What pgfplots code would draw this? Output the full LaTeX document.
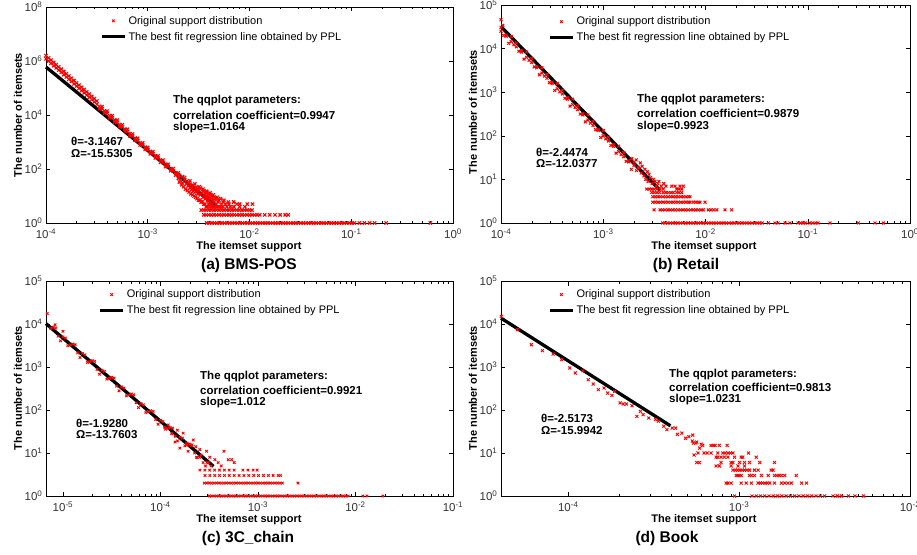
\documentclass[border=0pt]{standalone}
\usepackage{fontspec}
\setmainfont{Liberation Sans}
\usepackage{pgfplots}
\pgfplotsset{compat=1.18}

\newcommand\tkfont{\fontsize{11.5}{12}\selectfont}
\newcommand\legfont{\fontsize{11}{12}\selectfont}
\newcommand\annfont{\fontsize{11.5}{13}\selectfont\bfseries}
\newcommand\labfont{\fontsize{11}{13}\selectfont\bfseries}
\newcommand\capfont{\fontsize{15.5}{17}\selectfont\bfseries}
\newcommand\ptsleg{\draw[red,mark=x,mark size=1.8pt,mark options={line width=0.9pt}] plot[only marks] coordinates {(11.5pt,0pt)};}
\newcommand\fitleg{\draw[black,line width=3.3pt] (0pt,0pt) -- (23pt,0pt);}

\begin{document}
\begin{tikzpicture}
\useasboundingbox (0pt,0pt) rectangle (917pt,-554pt);

% ---------------- (a) BMS-POS ----------------
\begin{axis}[xmode=log, ymode=log, scale only axis, anchor=north west,
  at={(46pt,-7pt)}, width=407pt, height=216pt,
  tick align=inside, major tick length=4.5pt, minor tick length=2.5pt,
  tick style={black, line width=0.5pt}, axis line style={line width=0.8pt},
  tick label style={font=\tkfont, text=black!80}, xticklabel style={yshift=-2pt},
  xticklabel={10\textsuperscript{\pgfmathparse{int(round(\tick/ln(10)))}\pgfmathresult}},
  yticklabel={10\textsuperscript{\pgfmathparse{int(round(\tick/ln(10)))}\pgfmathresult}},
  minor y tick style={draw=none}, clip=false, legend cell align=left,
  legend style={draw=none, fill=none, font=\legfont, inner sep=0pt, anchor=north west, row sep=2.5pt, at={(0.1327,0.968)}},
  xmin=1e-4, xmax=1, ymin=1, ymax=1e8,
  xtick={1e-4,1e-3,1e-2,1e-1,1}, ytick={1,1e2,1e4,1e6,1e8}]
\addplot[only marks, mark=x, red, mark size=2.3pt, mark options={line width=1.1pt}, legend image code/.code={\ptsleg}] coordinates {
 (1.000e-4,1.202e6) (1.059e-4,9.91e5) (1.122e-4,8.17e5) (1.189e-4,6.73e5) (1.259e-4,5.55e5)
 (1.334e-4,4.57e5) (1.413e-4,3.77e5) (1.496e-4,3.11e5) (1.585e-4,2.56e5) (1.679e-4,2.11e5)
 (1.778e-4,1.74e5) (1.884e-4,1.43e5) (1.995e-4,1.18e5) (2.113e-4,9.73e4) (2.239e-4,8.02e4)
 (2.371e-4,6.61e4) (2.512e-4,5.45e4) (2.661e-4,4.49e4) (2.818e-4,3.70e4) (2.985e-4,3.05e4)
 (3.162e-4,2.51e4) (3.350e-4,2.07e4) (3.548e-4,1.71e4) (3.758e-4,1.41e4) (3.981e-4,1.16e4)
 (4.217e-4,9.55e3) (4.467e-4,7.87e3) (4.732e-4,6.49e3) (5.012e-4,5.35e3) (5.309e-4,4.41e3)
 (5.623e-4,3.63e3) (5.957e-4,2.99e3) (6.310e-4,2.47e3) (6.683e-4,2.03e3) (7.079e-4,1.68e3)
 (7.499e-4,1.38e3) (7.943e-4,1.14e3) (8.414e-4,938) (8.913e-4,773) (9.441e-4,637)
 (1.000e-3,525) (1.059e-3,439) (1.122e-3,366) (1.189e-3,306) (1.259e-3,255)
 (1.334e-3,213) (1.413e-3,177) (1.496e-3,148) (1.585e-3,124) (1.679e-3,103)
 (1.778e-3,86) (1.884e-3,72) (1.995e-3,60)
 (1.000e-4,1.58e6) (1.059e-4,1.31e6) (1.122e-4,1.08e6) (1.189e-4,8.87e5) (1.259e-4,7.31e5)
 (1.334e-4,6.02e5) (1.413e-4,4.96e5) (1.496e-4,4.09e5) (1.585e-4,3.37e5) (1.679e-4,2.78e5)
 (1.778e-4,2.29e5) (1.884e-4,1.89e5) (1.995e-4,1.56e5) (2.113e-4,1.28e5) (2.239e-4,1.06e5)
 (2.371e-4,8.71e4) (2.512e-4,7.18e4) (2.661e-4,5.91e4) (2.818e-4,4.87e4) (2.985e-4,4.02e4)
 (3.162e-4,3.31e4) (3.548e-4,2.05e4) (3.981e-4,1.39e4) (4.467e-4,9.46e3) (5.012e-4,6.43e3)
 (5.623e-4,4.36e3) (6.310e-4,2.96e3) (7.079e-4,2.01e3) (7.943e-4,1.37e3) (8.913e-4,929)
 (1.000e-3,631) (1.122e-3,439) (1.259e-3,306) (1.413e-3,213) (1.585e-3,149)
 (1.778e-3,103) (1.995e-3,72)
 (3.350e-4,1.72e4) (3.758e-4,1.17e4) (4.217e-4,7.95e3) (4.732e-4,5.40e3) (5.309e-4,3.67e3)
 (5.957e-4,2.49e3) (6.683e-4,1.69e3) (7.499e-4,1148) (8.414e-4,780) (9.441e-4,530)
 (1.059e-3,365) (1.189e-3,254) (1.334e-3,177) (1.496e-3,123) (1.679e-3,86) (1.884e-3,60)
};
\addplot[only marks, mark=x, red, mark size=2.3pt, mark options={line width=1.1pt}, forget plot] coordinates {
 (2.0e-3,45) (2.1e-3,38) (2.2e-3,52) (2.2e-3,30) (2.3e-3,40) (2.4e-3,28) (2.4e-3,35)
 (2.5e-3,24) (2.5e-3,31) (2.6e-3,20) (2.6e-3,27) (2.7e-3,22) (2.7e-3,17) (2.8e-3,25)
 (2.8e-3,15) (2.9e-3,19) (3.0e-3,14) (3.0e-3,21) (3.1e-3,12) (3.1e-3,17) (3.2e-3,16)
 (3.3e-3,11) (3.3e-3,20) (3.4e-3,13) (3.5e-3,9) (3.5e-3,15) (3.6e-3,11) (3.7e-3,8)
 (3.7e-3,14) (3.8e-3,10) (3.9e-3,7) (3.9e-3,12) (4.0e-3,9) (4.1e-3,6) (4.1e-3,11)
 (4.2e-3,8) (4.3e-3,5) (4.3e-3,10) (4.4e-3,7) (4.5e-3,6) (4.5e-3,9) (4.7e-3,5)
 (4.7e-3,8) (4.9e-3,6) (5.0e-3,4) (5.0e-3,7) (5.3e-3,5) (5.5e-3,6) (5.5e-3,4)
 (5.8e-3,5) (6.0e-3,4) (6.3e-3,5) (6.5e-3,4) (7.0e-3,4) (7.5e-3,5) (8.0e-3,4)
 (9.0e-3,4) (1.07e-2,5)
 (2.05e-3,33) (2.15e-3,26) (2.25e-3,22) (2.35e-3,18) (2.45e-3,16) (2.55e-3,14) (2.65e-3,12)
 (2.75e-3,11) (2.85e-3,10) (2.95e-3,9) (3.05e-3,8) (3.15e-3,7) (3.25e-3,7) (3.35e-3,6)
 (3.45e-3,6) (3.55e-3,5) (3.65e-3,5) (3.75e-3,4) (3.85e-3,4) (3.95e-3,5) (4.05e-3,4)
 (4.15e-3,5) (4.25e-3,4) (4.4e-3,4) (4.6e-3,4) (4.8e-3,4) (5.2e-3,4)
 (2.05e-3,58) (2.3e-3,48) (2.6e-3,36) (2.9e-3,28) (3.2e-3,22) (3.5e-3,18) (3.8e-3,15)
 (4.1e-3,13) (4.4e-3,11) (4.8e-3,9) (5.2e-3,8) (5.6e-3,7) (6.2e-3,6) (7.0e-3,6) (8.0e-3,5) (9.5e-3,5)
 (3.350e-3,3) (3.548e-3,3) (3.758e-3,3) (3.981e-3,3) (4.217e-3,3) (4.467e-3,3) (4.732e-3,3)
 (5.012e-3,3) (5.309e-3,3) (5.623e-3,3) (5.957e-3,3) (6.310e-3,3) (6.683e-3,3) (7.079e-3,3)
 (7.499e-3,3) (7.943e-3,3) (8.414e-3,3) (8.913e-3,3) (9.441e-3,3) (1.000e-2,3) (1.059e-2,3)
 (3.548e-3,2) (3.758e-3,2) (3.981e-3,2) (4.217e-3,2) (4.467e-3,2) (4.732e-3,2) (5.012e-3,2)
 (5.309e-3,2) (5.623e-3,2) (5.957e-3,2) (6.310e-3,2) (6.683e-3,2) (7.079e-3,2) (7.499e-3,2)
 (7.943e-3,2) (8.414e-3,2) (8.913e-3,2) (9.441e-3,2) (1.000e-2,2) (1.059e-2,2) (1.122e-2,2)
 (1.189e-2,2) (1.259e-2,2) (1.41e-2,2) (1.58e-2,2) (1.78e-2,2) (2.0e-2,2) (2.24e-2,2) (2.4e-2,2)
 (3.80e-3,1) (4.03e-3,1) (4.27e-3,1) (4.52e-3,1) (4.79e-3,1) (5.07e-3,1) (5.37e-3,1) (5.69e-3,1)
 (6.03e-3,1) (6.38e-3,1) (6.76e-3,1) (7.16e-3,1) (7.59e-3,1) (8.04e-3,1) (8.51e-3,1) (9.02e-3,1)
 (9.55e-3,1) (1.012e-2,1) (1.072e-2,1) (1.135e-2,1) (1.202e-2,1) (1.274e-2,1) (1.349e-2,1)
 (1.429e-2,1) (1.514e-2,1) (1.603e-2,1) (1.698e-2,1) (1.799e-2,1) (1.905e-2,1) (2.018e-2,1)
 (2.138e-2,1) (2.265e-2,1) (2.399e-2,1) (2.541e-2,1) (2.692e-2,1) (2.851e-2,1) (3.020e-2,1)
 (3.199e-2,1) (3.388e-2,1) (3.589e-2,1) (3.802e-2,1) (4.027e-2,1) (4.266e-2,1) (4.519e-2,1)
 (4.786e-2,1) (5.070e-2,1) (5.370e-2,1) (5.689e-2,1) (6.026e-2,1) (6.383e-2,1) (6.761e-2,1)
 (7.161e-2,1) (7.586e-2,1) (8.035e-2,1) (8.511e-2,1) (9.016e-2,1) (9.550e-2,1) (0.1012,1)
 (0.1072,1) (0.1202,1) (0.1349,1) (0.1514,1) (0.1698,1) (0.22,1) (0.6,1)
};
\addplot[black, line width=3.3pt, no marks, legend image code/.code={\fitleg}] coordinates {(1e-4,6.0e5) (4.7e-3,4.1)};
\legend{Original support distribution, The best fit regression line obtained by PPL}
\end{axis}

% ---------------- (b) Retail ----------------
\begin{axis}[xmode=log, ymode=log, scale only axis, anchor=north west,
  at={(501pt,-5pt)}, width=409pt, height=218pt,
  tick align=inside, major tick length=4.5pt, minor tick length=2.5pt,
  tick style={black, line width=0.5pt}, axis line style={line width=0.8pt},
  tick label style={font=\tkfont, text=black!80}, xticklabel style={yshift=-2pt},
  xticklabel={10\textsuperscript{\pgfmathparse{int(round(\tick/ln(10)))}\pgfmathresult}},
  yticklabel={10\textsuperscript{\pgfmathparse{int(round(\tick/ln(10)))}\pgfmathresult}},
  minor y tick style={draw=none}, clip=false, legend cell align=left,
  legend style={draw=none, fill=none, font=\legfont, inner sep=0pt, anchor=north west, row sep=2.5pt, at={(0.115,0.955)}},
  xmin=1e-4, xmax=1, ymin=1, ymax=1e5,
  xtick={1e-4,1e-3,1e-2,1e-1,1}, ytick={1,1e1,1e2,1e3,1e4,1e5}]
\addplot[only marks, mark=x, red, mark size=2pt, mark options={line width=1pt}, legend image code/.code={\ptsleg}] coordinates {
 (1.0e-4,4.6e4) (1.04e-4,3.4e4)
 (1.000e-4,3.09e4) (1.059e-4,2.00e4) (1.122e-4,2.04e4) (1.189e-4,1.32e4) (1.259e-4,1.91e4)
 (1.334e-4,1.23e4) (1.413e-4,1.35e4) (1.496e-4,8.71e3) (1.585e-4,8.91e3) (1.679e-4,5.75e3)
 (1.778e-4,8.32e3) (1.884e-4,5.37e3) (1.995e-4,5.89e3) (2.113e-4,3.80e3) (2.239e-4,3.89e3)
 (2.371e-4,2.51e3) (2.512e-4,3.63e3) (2.661e-4,2.34e3) (2.818e-4,2.57e3) (2.985e-4,1.66e3)
 (3.162e-4,1.70e3) (3.350e-4,1.10e3) (3.548e-4,1.59e3) (3.758e-4,1.02e3) (3.981e-4,1.12e3)
 (4.217e-4,724) (4.467e-4,741) (4.732e-4,479) (5.012e-4,692) (5.309e-4,447)
 (5.623e-4,490) (5.957e-4,316) (6.310e-4,324) (6.683e-4,209) (7.079e-4,302)
 (7.499e-4,195) (7.943e-4,214) (8.414e-4,138) (8.913e-4,141) (9.441e-4,91)
 (1.000e-3,132) (1.059e-3,85) (1.122e-3,93) (1.189e-3,60) (1.259e-3,62)
 (1.334e-3,40) (1.413e-3,58) (1.496e-3,37) (1.585e-3,41) (1.679e-3,26)
 (1.778e-3,27) (1.884e-3,17) (1.995e-3,25) (2.113e-3,16) (2.239e-3,18)
 (1.000e-4,2.51e4) (1.122e-4,1.91e4) (1.259e-4,1.45e4) (1.413e-4,1.10e4) (1.585e-4,8.32e3)
 (1.778e-4,6.31e3) (1.995e-4,4.79e3) (2.239e-4,3.63e3) (2.512e-4,2.75e3) (2.818e-4,2.09e3)
 (3.162e-4,1.59e3) (3.548e-4,1.20e3) (3.981e-4,912) (4.467e-4,692) (5.012e-4,525)
 (5.623e-4,398) (6.310e-4,302) (7.079e-4,229) (7.943e-4,174) (8.913e-4,132)
 (1.000e-3,100) (1.122e-3,76) (1.259e-3,57.5) (1.413e-3,43.7) (1.585e-3,33.1) (1.778e-3,25.1)
};
\addplot[only marks, mark=x, red, mark size=2pt, mark options={line width=1pt}, forget plot] coordinates {
 (1.9e-3,30) (2.0e-3,21) (2.1e-3,28) (2.2e-3,19) (2.3e-3,24) (2.35e-3,14) (2.4e-3,20)
 (2.5e-3,12) (2.55e-3,17) (2.6e-3,10) (2.7e-3,15) (2.75e-3,9) (2.8e-3,13) (2.9e-3,11)
 (3.0e-3,8) (3.1e-3,10) (3.2e-3,9) (3.3e-3,7) (3.4e-3,8) (3.5e-3,9) (3.7e-3,7)
 (3.9e-3,8) (4.1e-3,7) (4.67e-3,7) (5.04e-3,7) (5.63e-3,7) (6.07e-3,7)
 (2.66e-3,6) (2.82e-3,6) (2.98e-3,6) (3.16e-3,6) (3.35e-3,6) (3.59e-3,6) (3.87e-3,6)
 (5.23e-3,6) (5.5e-3,6) (5.85e-3,6)
 (2.98e-3,5) (3.16e-3,5) (3.35e-3,5) (3.55e-3,5) (3.87e-3,5) (4.10e-3,5) (4.34e-3,5)
 (4.60e-3,5) (4.84e-3,5) (5.23e-3,5) (5.50e-3,5) (5.85e-3,5)
 (3.05e-3,4) (3.23e-3,4) (3.42e-3,4) (3.62e-3,4) (3.84e-3,4) (4.06e-3,4) (4.30e-3,4)
 (4.56e-3,4) (4.83e-3,4) (5.11e-3,4) (5.42e-3,4) (5.74e-3,4) (6.08e-3,4) (6.44e-3,4)
 (6.82e-3,4) (7.05e-3,4)
 (3.05e-3,3) (3.23e-3,3) (3.42e-3,3) (3.62e-3,3) (3.84e-3,3) (4.06e-3,3) (4.30e-3,3)
 (4.56e-3,3) (4.83e-3,3) (5.11e-3,3) (5.42e-3,3) (5.74e-3,3) (6.08e-3,3) (6.44e-3,3)
 (6.82e-3,3) (7.05e-3,3) (7.60e-3,3) (8.04e-3,3) (8.51e-3,3) (8.83e-3,3) (9.89e-3,3)
 (3.14e-3,2) (3.59e-3,2) (3.80e-3,2) (4.03e-3,2) (4.27e-3,2) (4.52e-3,2) (4.79e-3,2)
 (5.07e-3,2) (5.37e-3,2) (5.69e-3,2) (6.03e-3,2) (6.38e-3,2) (6.76e-3,2) (7.16e-3,2)
 (7.59e-3,2) (8.04e-3,2) (8.51e-3,2) (9.02e-3,2) (9.52e-3,2) (1.065e-2,2) (1.13e-2,2)
 (1.2e-2,2) (1.29e-2,2) (1.55e-2,2) (1.80e-2,2)
 (3.80e-3,1) (4.03e-3,1) (4.27e-3,1) (4.52e-3,1) (4.79e-3,1) (5.07e-3,1) (5.37e-3,1)
 (5.69e-3,1) (6.03e-3,1) (6.38e-3,1) (6.76e-3,1) (7.16e-3,1) (7.59e-3,1) (8.04e-3,1)
 (8.51e-3,1) (9.02e-3,1) (9.55e-3,1) (1.012e-2,1) (1.072e-2,1) (1.135e-2,1) (1.202e-2,1)
 (1.274e-2,1) (1.349e-2,1) (1.429e-2,1) (1.514e-2,1) (1.603e-2,1) (1.698e-2,1) (1.799e-2,1)
 (1.905e-2,1) (2.018e-2,1) (2.138e-2,1) (2.265e-2,1) (2.399e-2,1) (2.541e-2,1) (2.692e-2,1)
 (2.851e-2,1) (3.020e-2,1) (3.199e-2,1) (3.388e-2,1) (3.589e-2,1) (4.11e-2,1) (4.78e-2,1)
 (5.12e-2,1) (6.0e-2,1) (6.7e-2,1) (8.03e-2,1) (8.5e-2,1) (9.0e-2,1) (9.5e-2,1) (0.105,1)
 (0.112,1) (0.12,1) (0.126,1) (0.165,1) (0.312,1) (0.455,1) (0.548,1)
};
\addplot[black, line width=3.3pt, no marks, legend image code/.code={\fitleg}] coordinates {(1e-4,3.2e4) (3.6e-3,5.6)};
\legend{Original support distribution, The best fit regression line obtained by PPL}
\end{axis}

% ---------------- (c) 3C_chain ----------------
\begin{axis}[xmode=log, ymode=log, scale only axis, anchor=north west,
  at={(46pt,-281pt)}, width=407pt, height=215pt,
  tick align=inside, major tick length=4.5pt, minor tick length=2.5pt,
  tick style={black, line width=0.5pt}, axis line style={line width=0.8pt},
  tick label style={font=\tkfont, text=black!80}, xticklabel style={yshift=-2pt},
  xticklabel={10\textsuperscript{\pgfmathparse{int(round(\tick/ln(10)))}\pgfmathresult}},
  yticklabel={10\textsuperscript{\pgfmathparse{int(round(\tick/ln(10)))}\pgfmathresult}},
  minor y tick style={draw=none}, clip=false, legend cell align=left,
  legend style={draw=none, fill=none, font=\legfont, inner sep=0pt, anchor=north west, row sep=2.5pt, at={(0.1285,0.969)}},
  xmin=6.7e-6, xmax=1e-1, ymin=1, ymax=1e5,
  xtick={1e-5,1e-4,1e-3,1e-2,1e-1}, ytick={1,1e1,1e2,1e3,1e4,1e5}]
\addplot[only marks, mark=x, red, mark size=1.8pt, mark options={line width=0.9pt}, legend image code/.code={\ptsleg}] coordinates {
 (6.9e-6,1.75e4) (8.3e-6,9.6e3) (1.0e-5,6.8e3)
 (7.94e-6,8.41e3) (8.91e-6,5.22e3) (1.0e-5,5.02e3) (1.122e-5,3.12e3) (1.259e-5,3.44e3)
 (1.413e-5,2.14e3) (1.585e-5,2.06e3) (1.778e-5,1.28e3) (1.995e-5,1.41e3) (2.239e-5,875)
 (2.512e-5,841) (2.818e-5,522) (3.162e-5,577) (3.548e-5,358) (3.981e-5,344)
 (4.467e-5,214) (5.012e-5,236) (5.623e-5,147) (6.310e-5,141) (7.079e-5,87.5)
 (7.943e-5,96.6) (8.913e-5,60) (1.0e-4,57.7) (1.122e-4,35.8) (1.259e-4,39.5)
 (1.413e-4,24.5) (1.585e-4,23.6) (1.778e-4,14.7) (1.995e-4,16.2) (2.239e-4,10) (2.512e-4,8)
 (7.50e-6,8.0e3) (8.41e-6,8.05e3) (9.44e-6,4.06e3) (1.059e-5,4.70e3) (1.189e-5,3.27e3)
 (1.334e-5,3.30e3) (1.496e-5,1.66e3) (1.679e-5,1.92e3) (1.884e-5,1.34e3) (2.113e-5,1.35e3)
 (2.371e-5,681) (2.661e-5,787) (2.985e-5,548) (3.350e-5,552) (3.758e-5,279)
 (4.217e-5,322) (4.732e-5,224) (5.309e-5,226) (5.957e-5,114) (6.683e-5,132)
 (7.499e-5,91.8) (8.414e-5,92.5) (9.441e-5,46.7) (1.059e-4,54) (1.189e-4,37.6)
 (1.334e-4,37.8) (1.496e-4,19.1) (1.679e-4,22.1) (1.884e-4,15.4) (2.113e-4,15.5) (2.371e-4,7.8)
};
\addplot[only marks, mark=x, red, mark size=1.8pt, mark options={line width=0.9pt}, forget plot] coordinates {
 (1.49e-4,34) (1.71e-4,29) (1.41e-4,18) (1.85e-4,17) (2.17e-4,20) (2.08e-4,15) (2.53e-4,12)
 (2.97e-4,11) (3.61e-4,7) (4.48e-4,11) (5.37e-4,7) (4.96e-4,7) (1.58e-4,13) (1.92e-4,11)
 (2.34e-4,8) (2.74e-4,6) (3.0e-4,6) (3.3e-4,5) (3.9e-4,6) (4.2e-4,5) (5.7e-4,6)
 (2.6e-4,9) (3.2e-4,8) (2.3e-4,14) (1.3e-4,28) (1.2e-4,45) (1.1e-4,40) (2.9e-4,5) (3.1e-4,6)
 (2.54e-4,4) (2.85e-4,4) (3.20e-4,4) (3.59e-4,4) (4.03e-4,4) (4.52e-4,4) (5.07e-4,4)
 (5.69e-4,4) (7.0e-4,4) (7.9e-4,4) (8.9e-4,4) (9.8e-4,4)
 (2.86e-4,3) (3.21e-4,3) (3.60e-4,3) (4.04e-4,3) (4.53e-4,3) (5.08e-4,3) (5.70e-4,3)
 (6.40e-4,3) (7.18e-4,3) (8.05e-4,3) (9.04e-4,3) (1.01e-3,3) (1.14e-3,3) (1.28e-3,3)
 (1.43e-3,3) (1.61e-3,3) (1.70e-3,3)
 (2.818e-4,2) (2.985e-4,2) (3.162e-4,2) (3.350e-4,2) (3.548e-4,2) (3.758e-4,2) (3.981e-4,2)
 (4.217e-4,2) (4.467e-4,2) (4.732e-4,2) (5.012e-4,2) (5.309e-4,2) (5.623e-4,2) (5.957e-4,2)
 (6.310e-4,2) (6.683e-4,2) (7.079e-4,2) (7.499e-4,2) (7.943e-4,2) (8.414e-4,2) (8.913e-4,2)
 (9.441e-4,2) (1.000e-3,2) (1.059e-3,2) (1.122e-3,2) (1.189e-3,2) (1.259e-3,2) (1.334e-3,2)
 (1.413e-3,2) (1.496e-3,2) (1.585e-3,2) (1.679e-3,2) (1.778e-3,2) (2.57e-3,2)
 (3.162e-4,1) (3.350e-4,1) (3.548e-4,1) (3.758e-4,1) (3.981e-4,1) (4.217e-4,1) (4.467e-4,1)
 (4.732e-4,1) (5.012e-4,1) (5.309e-4,1) (5.623e-4,1) (5.957e-4,1) (6.310e-4,1) (6.683e-4,1)
 (7.079e-4,1) (7.499e-4,1) (7.943e-4,1) (8.414e-4,1) (8.913e-4,1) (9.441e-4,1) (1.000e-3,1)
 (1.059e-3,1) (1.122e-3,1) (1.189e-3,1) (1.259e-3,1) (1.334e-3,1) (1.413e-3,1) (1.496e-3,1)
 (1.585e-3,1) (1.679e-3,1) (1.778e-3,1) (1.884e-3,1) (1.995e-3,1) (2.113e-3,1) (2.239e-3,1)
 (2.371e-3,1) (2.512e-3,1) (2.661e-3,1) (2.818e-3,1) (2.985e-3,1) (3.162e-3,1) (3.350e-3,1)
 (3.548e-3,1) (3.758e-3,1) (3.981e-3,1) (4.217e-3,1) (4.467e-3,1) (4.732e-3,1) (5.012e-3,1)
 (5.309e-3,1) (5.623e-3,1) (5.957e-3,1) (6.310e-3,1) (6.683e-3,1) (7.079e-3,1) (7.499e-3,1)
 (7.943e-3,1) (8.414e-3,1) (1.19e-2,1) (1.31e-2,1) (1.91e-2,1)
};
\addplot[black, line width=3.3pt, no marks, legend image code/.code={\fitleg}] coordinates {(6.7e-6,1.02e4) (3.5e-4,4.9)};
\legend{Original support distribution, The best fit regression line obtained by PPL}
\end{axis}

% ---------------- (d) Book ----------------
\begin{axis}[xmode=log, ymode=log, scale only axis, anchor=north west,
  at={(501pt,-281pt)}, width=409pt, height=215pt,
  tick align=inside, major tick length=4.5pt, minor tick length=2.5pt,
  tick style={black, line width=0.5pt}, axis line style={line width=0.8pt},
  tick label style={font=\tkfont, text=black!80}, xticklabel style={yshift=-2pt},
  xticklabel={10\textsuperscript{\pgfmathparse{int(round(\tick/ln(10)))}\pgfmathresult}},
  yticklabel={10\textsuperscript{\pgfmathparse{int(round(\tick/ln(10)))}\pgfmathresult}},
  minor y tick style={draw=none}, clip=false, legend cell align=left,
  legend style={draw=none, fill=none, font=\legfont, inner sep=0pt, anchor=north west, row sep=2.5pt, at={(0.115,0.969)}},
  xmin=4.04e-5, xmax=1e-2, ymin=1, ymax=1e5,
  xtick={1e-4,1e-3,1e-2}, ytick={1,1e1,1e2,1e3,1e4,1e5}]
\addplot[only marks, mark=x, red, mark size=2.1pt, mark options={line width=0.9pt}, legend image code/.code={\ptsleg}] coordinates {
 (4.06e-5,1.5e4) (5.04e-5,7.4e3) (6.08e-5,3.3e3) (7.06e-5,2.4e3) (8.16e-5,2.0e3)
 (9.14e-5,1.48e3) (1.02e-4,950) (1.10e-4,725) (1.22e-4,820) (1.31e-4,507) (1.40e-4,402)
 (1.50e-4,297) (1.62e-4,325) (1.70e-4,248) (1.80e-4,219) (1.87e-4,272) (2.01e-4,146)
 (2.10e-4,138) (2.19e-4,138) (2.36e-4,126) (2.52e-4,71) (2.64e-4,93) (2.74e-4,78)
 (2.96e-4,65) (3.24e-4,60) (3.37e-4,55) (3.62e-4,42) (3.78e-4,35) (4.06e-4,38)
 (4.25e-4,38) (4.35e-4,27) (4.62e-4,29) (4.86e-4,22) (5.08e-4,24) (5.32e-4,19)
 (5.4e-4,17) (5.65e-4,18) (5.87e-4,13) (5.74e-4,10) (6.0e-4,16) (5.65e-4,6)
 (5.35e-4,26) (5.58e-4,17) (5.45e-4,9)
 (6.12e-4,15) (6.85e-4,15) (7.05e-4,15) (7.23e-4,15) (7.66e-4,15) (8.51e-4,15)
 (6.23e-4,10) (6.5e-4,10) (6.85e-4,10) (7.5e-4,10) (8.02e-4,10) (8.3e-4,10) (8.6e-4,10)
 (8.9e-4,10) (9.2e-4,10) (1.135e-3,10)
 (7.33e-4,8) (7.5e-4,8) (7.84e-4,8) (8.2e-4,8) (8.6e-4,8) (9.4e-4,8) (1.028e-3,8)
 (1.05e-3,8) (1.26e-3,8)
 (5.85e-4,6) (7.84e-4,6) (8.98e-4,6) (9.19e-4,6) (1.005e-3,6) (1.075e-3,6) (1.15e-3,6)
 (1.32e-3,6) (1.61e-3,6)
 (7.33e-4,5) (7.66e-4,5) (8.98e-4,5) (9.84e-4,5) (1.075e-3,5)
 (9.19e-4,4) (9.5e-4,4) (9.8e-4,4) (1.01e-3,4) (1.04e-3,4) (1.075e-3,4) (1.11e-3,4)
 (1.15e-3,4) (1.23e-3,4) (1.29e-3,4) (1.54e-3,4) (1.58e-3,4)
 (9.62e-4,3) (9.84e-4,3) (1.005e-3,3) (1.028e-3,3) (1.15e-3,3) (1.18e-3,3) (1.23e-3,3)
 (1.35e-3,3) (1.48e-3,3) (1.61e-3,3) (1.66e-3,3) (1.72e-3,3) (1.77e-3,3) (1.85e-3,3)
 (2.16e-3,3)
 (8.39e-4,2) (8.6e-4,2) (8.98e-4,2) (1.028e-3,2) (1.10e-3,2) (1.18e-3,2) (1.29e-3,2)
 (1.33e-3,2) (1.37e-3,2) (1.42e-3,2) (1.46e-3,2) (1.51e-3,2) (1.61e-3,2) (1.77e-3,2)
 (1.85e-3,2) (1.93e-3,2) (2.02e-3,2) (2.32e-3,2) (2.48e-3,2)
 (9.4e-4,1) (1.189e-3,1) (1.259e-3,1) (1.334e-3,1) (1.413e-3,1) (1.496e-3,1) (1.585e-3,1)
 (1.679e-3,1) (1.778e-3,1) (1.884e-3,1) (1.995e-3,1) (2.113e-3,1) (2.239e-3,1) (2.371e-3,1)
 (2.512e-3,1) (2.661e-3,1) (2.818e-3,1) (2.985e-3,1) (3.162e-3,1) (3.548e-3,1) (3.758e-3,1)
 (3.981e-3,1) (4.36e-3,1) (4.76e-3,1) (5.34e-3,1)
};
\addplot[black, line width=3.3pt, no marks, legend image code/.code={\fitleg}] coordinates {(4.04e-5,1.37e4) (3.96e-4,43)};
\legend{Original support distribution, The best fit regression line obtained by PPL}
\end{axis}

% ---------------- labels and annotations ----------------
\begin{scope}[every node/.style={inner sep=0pt}]
\node[font=\labfont] at (249pt,-247pt) {The itemset support};
\node[font=\labfont] at (704pt,-247pt) {The itemset support};
\node[font=\labfont] at (249pt,-520pt) {The itemset support};
\node[font=\labfont] at (704pt,-520pt) {The itemset support};
\node[font=\labfont, rotate=90] at (18pt,-115pt) {The number of itemsets};
\node[font=\labfont, rotate=90] at (473pt,-112pt) {The number of itemsets};
\node[font=\labfont, rotate=90] at (18pt,-388pt) {The number of itemsets};
\node[font=\labfont, rotate=90] at (473pt,-388pt) {The number of itemsets};
\node[font=\capfont] at (249pt,-265pt) {(a) BMS-POS};
\node[font=\capfont] at (686pt,-265pt) {(b) Retail};
\node[font=\capfont] at (248pt,-538pt) {(c) 3C\_chain};
\node[font=\capfont] at (667pt,-538pt) {(d) Book};
\node[font=\annfont, anchor=west] at (173pt,-101pt) {The qqplot parameters:};
\node[font=\annfont, anchor=west] at (173pt,-115pt) {correlation coefficient=0.9947};
\node[font=\annfont, anchor=west] at (173pt,-128pt) {slope=1.0164};
\node[font=\annfont, anchor=west] at (71pt,-141pt) {θ=-3.1467};
\node[font=\annfont, anchor=west] at (71pt,-154pt) {Ω=-15.5305};
\node[font=\annfont, anchor=west] at (637pt,-100pt) {The qqplot parameters:};
\node[font=\annfont, anchor=west] at (637pt,-113pt) {correlation coefficient=0.9879};
\node[font=\annfont, anchor=west] at (637pt,-127pt) {slope=0.9923};
\node[font=\annfont, anchor=west] at (536pt,-152pt) {θ=-2.4474};
\node[font=\annfont, anchor=west] at (536pt,-164pt) {Ω=-12.0377};
\node[font=\annfont, anchor=west] at (200pt,-377pt) {The qqplot parameters:};
\node[font=\annfont, anchor=west] at (200pt,-390pt) {correlation coefficient=0.9921};
\node[font=\annfont, anchor=west] at (200pt,-403pt) {slope=1.012};
\node[font=\annfont, anchor=west] at (76pt,-423pt) {θ=-1.9280};
\node[font=\annfont, anchor=west] at (76pt,-435pt) {Ω=-13.7603};
\node[font=\annfont, anchor=west] at (669pt,-375pt) {The qqplot parameters:};
\node[font=\annfont, anchor=west] at (669pt,-387pt) {correlation coefficient=0.9813};
\node[font=\annfont, anchor=west] at (669pt,-400pt) {slope=1.0231};
\node[font=\annfont, anchor=west] at (541pt,-418pt) {θ=-2.5173};
\node[font=\annfont, anchor=west] at (541pt,-431pt) {Ω=-15.9942};
\end{scope}
\end{tikzpicture}
\end{document}
